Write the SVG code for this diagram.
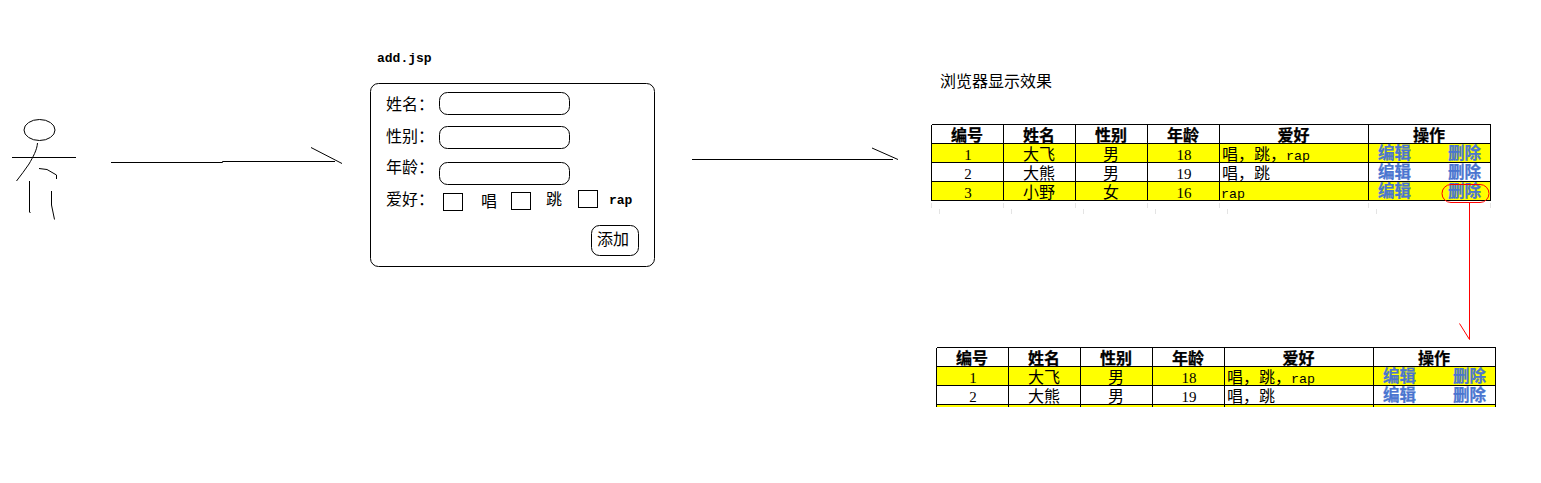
<svg xmlns="http://www.w3.org/2000/svg" width="1541" height="483" viewBox="0 0 1541 483">
<style>
text{font-family:"Liberation Mono","Noto Sans CJK SC",monospace;font-size:16px;fill:#000}
.h{font-weight:700;text-anchor:middle;stroke:#000;stroke-width:.25}
.c{text-anchor:middle}
.l{font-weight:700;font-size:16.500px;fill:#4a75d0;stroke:#4a75d0;stroke-width:.25}
.m{font-size:13.300px}
.n{font-family:"Liberation Serif",serif;font-size:15px;text-anchor:middle}
.b{font-weight:700;font-size:13px}
.s{fill:none;stroke:#000;stroke-width:1}
.r{fill:none;stroke:#f00;stroke-width:1}
.f{fill:#fff;stroke:#000;stroke-width:1}
.g{fill:none;stroke:#000;stroke-width:1;shape-rendering:crispEdges}
.t{fill:none;stroke:#e4e4e4;stroke-width:1;shape-rendering:crispEdges}
.y{fill:#ff0}
</style>
<rect width="1541" height="483" fill="#fff"/>
<g id="person">
<ellipse class="s" cx="39.5" cy="130" rx="15.5" ry="10.5"/>
<path class="s" d="M12 157.500H76M37.500 143C37 150 33 157 29 164C25 170 21 175 16.500 181"/>
<path class="s" d="M39 168.500L47 169.500L56.500 175V179"/>
<path class="s" d="M29.500 181V212L30.500 213M51.500 191V205L54.500 219.500"/>
</g>
<g id="form">
<rect class="f" x="370.500" y="83.500" width="284" height="183" rx="8"/>
<text x="377" y="62" class="b">add.jsp</text>
<rect class="f" x="439.500" y="92.500" width="130" height="22" rx="8"/>
<rect class="f" x="439.500" y="126.500" width="130" height="22" rx="8"/>
<rect class="f" x="439.500" y="162.500" width="130" height="22" rx="8"/>
<text x="386" y="110">姓名：</text>
<text x="386" y="142">性别：</text>
<text x="386" y="173">年龄：</text>
<text x="386" y="205">爱好：</text>
<rect class="f" x="443.500" y="193.500" width="19" height="17"/>
<rect class="f" x="511.500" y="192.500" width="19" height="17"/>
<rect class="f" x="578.500" y="190.500" width="19" height="17"/>
<text x="481" y="207">唱</text>
<text x="546" y="205">跳</text>
<text x="609" y="204" class="b">rap</text>
<rect class="f" x="591.500" y="225.500" width="47" height="30" rx="8"/>
<text x="597" y="245">添加</text>
</g>
<g id="result-title"><text x="940" y="87">浏览器显示效果</text></g>
<g id="table-before">
<rect class="y" x="931" y="143" width="560" height="19"/>
<rect class="y" x="931" y="181" width="560" height="19"/>
<path class="g" d="M931.500 124.500H1490.500M931.500 143.500H1490.500M931.500 162.500H1490.500M931.500 181.500H1490.500M931.500 200.500H1490.500M931.500 124.500V200.500M1003.500 124.500V200.500M1075.500 124.500V200.500M1147.500 124.500V200.500M1219.500 124.500V200.500M1368.500 124.500V200.500M1490.500 124.500V200.500"/>
<path class="t" d="M931.500 203V208M1003.500 203V208M1075.500 203V208M1147.500 203V208M1219.500 203V208M1368.500 203V208M1490.500 203V208M939.500 209V214M1011.500 209V214M1083.500 209V214M1155.500 209V214M1227.500 209V214M1376.500 209V214"/>
<text x="967" y="141" class="h">编号</text><text x="1039" y="141" class="h">姓名</text><text x="1111" y="141" class="h">性别</text><text x="1183" y="141" class="h">年龄</text><text x="1293.500" y="141" class="h">爱好</text><text x="1429" y="141" class="h">操作</text>
<text x="968" y="160" class="n">1</text><text x="1039" y="160" class="c">大飞</text><text x="1111" y="160" class="c">男</text><text x="1184" y="160" class="n">18</text><text x="1222" y="160">唱，跳，<tspan class="m">rap</tspan></text><text x="1378" y="159" class="l">编辑</text><text x="1448" y="159" class="l">删除</text>
<text x="968" y="179" class="n">2</text><text x="1039" y="179" class="c">大熊</text><text x="1111" y="179" class="c">男</text><text x="1184" y="179" class="n">19</text><text x="1222" y="179">唱，跳</text><text x="1378" y="178" class="l">编辑</text><text x="1448" y="178" class="l">删除</text>
<text x="968" y="198" class="n">3</text><text x="1039" y="198" class="c">小野</text><text x="1111" y="198" class="c">女</text><text x="1184" y="198" class="n">16</text><text x="1221" y="198" class="m">rap</text><text x="1378" y="197" class="l">编辑</text><text x="1448" y="197" class="l">删除</text>
</g>
<g id="table-after">
<rect class="y" x="936" y="366" width="560" height="19"/>
<rect class="y" x="936" y="404" width="560" height="3"/>
<path class="g" d="M936.500 347.500H1495.500M936.500 366.500H1495.500M936.500 385.500H1495.500M936.500 404.500H1495.500M936.500 347.500V407M1008.500 347.500V407M1080.500 347.500V407M1152.500 347.500V407M1224.500 347.500V407M1373.500 347.500V407M1495.500 347.500V407"/>
<text x="972" y="364" class="h">编号</text><text x="1044" y="364" class="h">姓名</text><text x="1116" y="364" class="h">性别</text><text x="1188" y="364" class="h">年龄</text><text x="1298.500" y="364" class="h">爱好</text><text x="1434" y="364" class="h">操作</text>
<text x="973" y="383" class="n">1</text><text x="1044" y="383" class="c">大飞</text><text x="1116" y="383" class="c">男</text><text x="1189" y="383" class="n">18</text><text x="1227" y="383">唱，跳，<tspan class="m">rap</tspan></text><text x="1383" y="382" class="l">编辑</text><text x="1453" y="382" class="l">删除</text>
<text x="973" y="402" class="n">2</text><text x="1044" y="402" class="c">大熊</text><text x="1116" y="402" class="c">男</text><text x="1189" y="402" class="n">19</text><text x="1227" y="402">唱，跳</text><text x="1383" y="401" class="l">编辑</text><text x="1453" y="401" class="l">删除</text>
</g>
<g id="connectors">
<path class="s" d="M111 162.500H222.500V161.500H335M311 147.500L342 163.500"/>
<path class="s" d="M692 159.500H893M872 148L898 159.500"/>
<rect class="r" x="1442" y="184.500" width="47" height="18" rx="9"/>
<path class="r" d="M1469.500 203V339.500L1459.500 323.500"/>
</g>
</svg>
